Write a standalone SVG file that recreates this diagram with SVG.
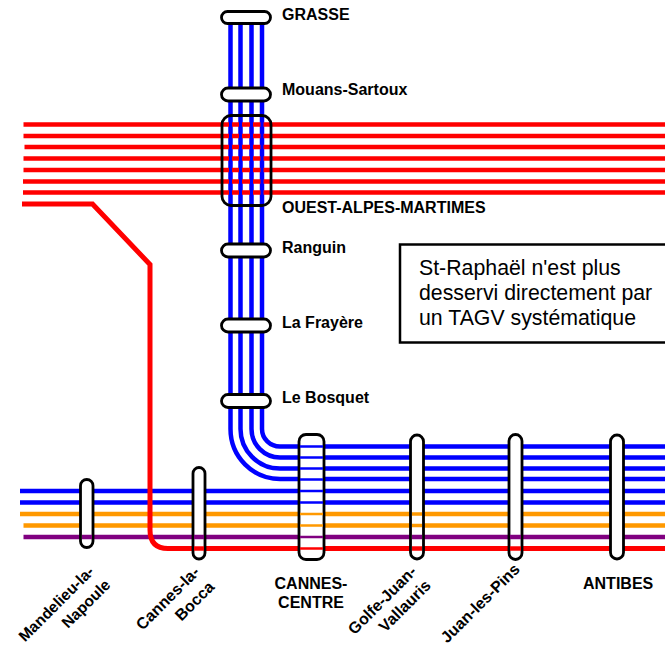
<svg xmlns="http://www.w3.org/2000/svg" width="665" height="645" viewBox="0 0 665 645">
<style>
.ln{fill:none;stroke-linejoin:miter}
.b{stroke:#0000ff;stroke-width:4.5}
.r{stroke:#ff0000;stroke-width:4.5}
.o{stroke:#ff9900;stroke-width:4.5}
.p{stroke:#800080;stroke-width:4.5}
.thin{stroke-width:2.500}
.st{fill:#fff;stroke:#000;stroke-width:2.800}
.hole{fill:none;stroke:#000;stroke-width:2.800}
text{font-family:"Liberation Sans",Arial,sans-serif;fill:#000}
.lb{font-size:16px;font-weight:bold}
.nt{font-size:21.300px}
</style>
<g id="connectors">
<path class="ln b" d="M230.500 14V429M240.500 14V429M251.500 14V429M262 14V429"/>
<path class="ln b" d="M262 429A18 17.500 0 0 0 280 446.500H665"/>
<path class="ln b" d="M251.500 429A28.500 28.500 0 0 0 280 457.500H665"/>
<path class="ln b" d="M240.500 429A39.500 39.500 0 0 0 280 468.500H665"/>
<path class="ln b" d="M230.500 429A49.500 50 0 0 0 280 479H665"/>
<path class="ln b" d="M20 491H665M20 502.500H665"/>
<path class="ln o" d="M20 514H665M23.500 525.500H665"/>
<path class="ln p" d="M23.500 537H665"/>
<path class="ln r" d="M23.500 124.500H665M23.500 136H665M24.500 147H665M23.500 158.500H665M23.500 170H665M23 181.500H665M23 192.500H665"/>
<path class="ln r" style="stroke-width:5" d="M22 204H92.500L150 264.500V530Q150 548.500 168 548.500H665"/>
</g>
<g id="st-grasse"><rect class="st" x="221.500" y="11.500" width="49" height="12" rx="6"/><text class="lb" x="282" y="19.500">GRASSE</text></g>
<g id="st-mouans"><rect class="st" x="221.500" y="88" width="49" height="13" rx="6.500"/><text class="lb" x="282" y="95">Mouans-Sartoux</text></g>
<g id="st-ouest"><rect class="hole" x="222" y="115.500" width="49" height="90" rx="9"/><path class="ln b" style="stroke-width:3" d="M230.500 118V203M240.500 118V203M251.500 118V203M262 118V203"/><text class="lb" x="282" y="212.500">OUEST-ALPES-MARTIMES</text></g>
<g id="st-ranguin"><rect class="st" x="221.500" y="244" width="49" height="13" rx="6.500"/><text class="lb" x="282" y="252.500">Ranguin</text></g>
<g id="st-frayere"><rect class="st" x="221.500" y="319" width="49" height="13" rx="6.500"/><text class="lb" x="282" y="327.500">La Frayère</text></g>
<g id="st-bosquet"><rect class="st" x="221.500" y="394.500" width="49" height="13" rx="6.500"/><text class="lb" x="282" y="402.500">Le Bosquet</text></g>
<g id="st-mandelieu"><rect class="st" x="80.500" y="479.500" width="12.500" height="68" rx="6.250"/><path class="ln p" d="M82 537H92"/><text class="lb" style="font-size:15.500px" transform="translate(60 607.500) rotate(-45)" text-anchor="middle"><tspan x="0" y="0">Mandelieu-la-</tspan><tspan x="21" y="21">Napoule</tspan></text></g>
<g id="st-bocca"><rect class="st" x="193" y="467.500" width="12" height="91.500" rx="6"/><path class="ln p" d="M194 537H204"/><path class="ln r" d="M194 548.500H204"/><text class="lb" transform="translate(171.500 602) rotate(-45)" text-anchor="middle"><tspan x="0" y="0">Cannes-la-</tspan><tspan x="17" y="21">Bocca</tspan></text></g>
<g id="st-cannes"><rect class="st" x="299" y="434.500" width="25" height="125" rx="7"/>
<path class="ln b thin" d="M300 446.500H323M300 457.500H323M300 468.500H323M300 479.500H323M300 491H323M300 502.500H323"/><path class="ln o thin" d="M300 514H323M300 525.500H323"/><path class="ln p thin" d="M300 537H323"/><path class="ln r thin" d="M300 548.500H323"/>
<text class="lb" text-anchor="middle"><tspan x="311" y="589">CANNES-</tspan><tspan x="311" y="608">CENTRE</tspan></text></g>
<g id="st-golfe"><rect class="st" x="410.500" y="435" width="13" height="124" rx="6.500"/><path class="ln o" style="stroke-width:3.500" d="M412 514H422M412 525.500H422"/><path class="ln p" d="M412 537H422"/><path class="ln r" d="M412 548.500H422"/><text class="lb" transform="translate(386 604) rotate(-45)" text-anchor="middle"><tspan x="0" y="0">Golfe-Juan-</tspan><tspan x="12" y="20">Vallauris</tspan></text></g>
<g id="st-juan"><rect class="st" x="509" y="434.500" width="13" height="125" rx="6.500"/><path class="ln p" d="M510 537H521"/><path class="ln r" d="M510 548.500H521"/><text class="lb" transform="translate(484 607) rotate(-45)" text-anchor="middle">Juan-les-Pins</text></g>
<g id="st-antibes"><rect class="st" x="610.500" y="435" width="13" height="124" rx="6.500"/><text class="lb" x="583" y="589">ANTIBES</text></g>
<g id="note"><rect x="400" y="244.500" width="280" height="98" fill="#fff" stroke="#000" stroke-width="2.500"/>
<text class="nt"><tspan x="419" y="275">St-Raphaël n'est plus</tspan><tspan x="419" y="300">desservi directement par</tspan><tspan x="419" y="325">un TAGV systématique</tspan></text></g>
</svg>
